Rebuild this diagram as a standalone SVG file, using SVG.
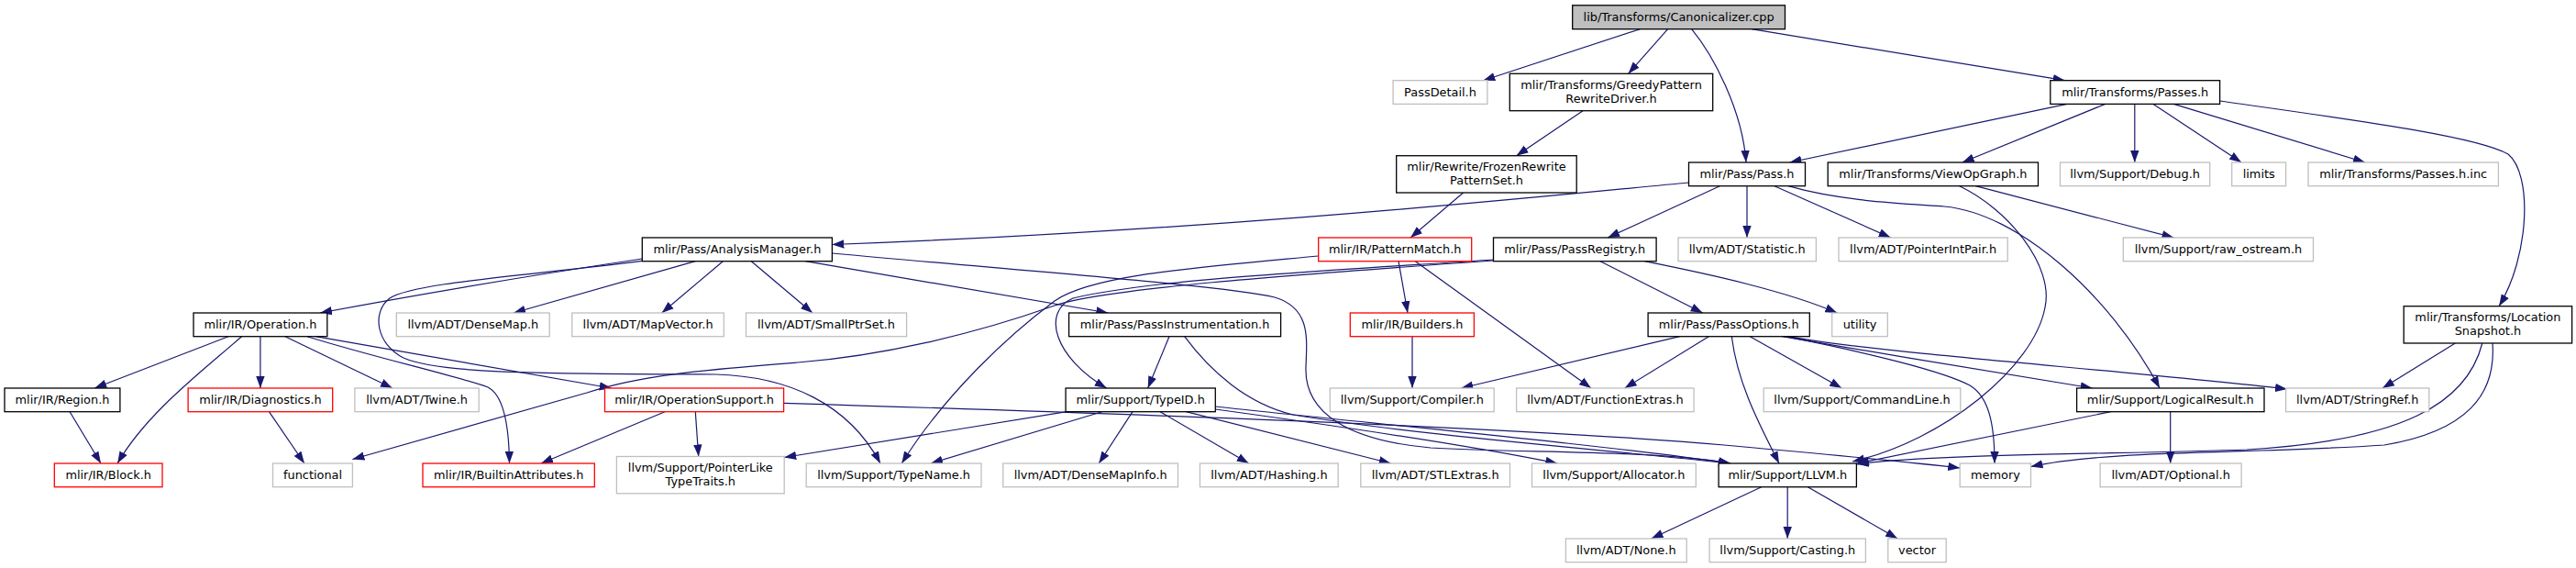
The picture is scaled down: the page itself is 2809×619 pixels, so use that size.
<svg xmlns="http://www.w3.org/2000/svg" width="2809" height="619" viewBox="0 0 2809 619">
<defs>
<marker id="a" markerUnits="userSpaceOnUse" markerWidth="14" markerHeight="10" viewBox="0 0 14 10" refX="13" refY="5" orient="auto">
<path d="M0,0.3 L13,5 L0,9.7 z" fill="#191970"/>
</marker>
<style>
rect{stroke-width:1.3;fill:#ffffff}
.k rect{stroke:#000000}
.g rect{stroke:#bfbfbf}
.r rect{stroke:#ff0000}
.root rect{fill:#bfbfbf;stroke:#000000}
text{font-family:"DejaVu Sans","Liberation Sans",sans-serif;font-size:12.9px;text-anchor:middle;fill:#000000}
#edges path{fill:none;stroke:#191970;stroke-width:1.2;marker-end:url(#a)}
</style>
</defs>
<rect x="0" y="0" width="2809" height="619" fill="#ffffff" style="stroke:none"/>
<g id="edges">
<path d="M1788.5,31.7 L1617.3,87.7"/>
<path d="M1818.7,31.7 L1775.6,80.3"/>
<path d="M1844.6,31.7 C1868,60 1900,120 1904,177"/>
<path d="M1910,31.7 L2251.7,87.7"/>
<path d="M1726,120.7 L1653.6,169.7"/>
<path d="M1595.6,210 L1538.1,259"/>
<path d="M2254,113.4 L1951.5,177"/>
<path d="M2295.6,113.4 L2139.8,177"/>
<path d="M2327.8,113.4 L2327.8,177"/>
<path d="M2348.1,113.4 L2444.1,177"/>
<path d="M2370.3,113.4 L2579,177"/>
<path d="M2420.6,110 C2560,130 2700,148 2735,168 C2762,190 2758,280 2725,333.7"/>
<path d="M2154.3,202.7 L2370.5,259"/>
<path d="M2136.7,202.7 C2190,228 2240,290 2230,335 C2218,400 2120,480 2020,503"/>
<path d="M1841.5,199 C1700,212 1350,250 907.4,266.5"/>
<path d="M1875.4,202.7 L1753.2,259"/>
<path d="M1905,202.7 L1905,259"/>
<path d="M1935,202.7 L2061.7,259"/>
<path d="M1950,202.7 C2010,220 2080,222 2120,225 C2200,232 2300,320 2355,423"/>
<path d="M700.3,282 C580,300 450,322 349,341"/>
<path d="M758.3,284.7 L560,341"/>
<path d="M788.3,284.7 L721.7,341"/>
<path d="M819.3,284.7 L886,341"/>
<path d="M878.3,284.7 L1208.3,341"/>
<path d="M907.4,276 C1150,298 1340,312 1390,324 C1430,336 1425,370 1424,400 C1422,450 1470,480 1560,488 C1660,494 1800,490 1887,505"/>
<path d="M700.3,284.3 C580,300 450,308 425,325 C405,340 410,375 440,390 C480,408 600,407 780,408 C860,410 925,440 960,505"/>
<path d="M1275,366.7 L1251.7,423"/>
<path d="M1291.7,366.7 C1320,405 1360,440 1410,452 C1550,475 1750,490 1887,505"/>
<path d="M1201.7,448.7 L1015,505"/>
<path d="M1235,448.7 L1198.3,505"/>
<path d="M1265,448.7 L1361.7,505"/>
<path d="M1163.3,448.7 L855.2,498.5"/>
<path d="M1293.3,448.7 L1516.7,505"/>
<path d="M1325.3,446 C1450,463 1600,485 1698.3,505"/>
<path d="M1325.3,443 C1500,462 1750,485 1887,505"/>
<path d="M854.6,439.3 C1200,450 1650,465 1880,485 C1990,495 2080,503 2137.2,510"/>
<path d="M249,366.7 L103.2,423"/>
<path d="M263.5,366.7 C220,405 160,450 128.1,505"/>
<path d="M283.9,366.7 L283.9,423"/>
<path d="M311,366.7 L427.9,423"/>
<path d="M335,366.7 C410,390 500,410 532,422 C548,430 555,460 555.5,505"/>
<path d="M344.1,366.7 L666.7,423"/>
<path d="M76.1,448.7 L110,505"/>
<path d="M293.4,448.7 L331.9,505"/>
<path d="M725,448.7 L590,505"/>
<path d="M758.3,448.7 L761.7,497.5"/>
<path d="M1525,284.7 L1535,341"/>
<path d="M1543.3,284.7 L1735,423"/>
<path d="M1437.7,279 C1300,292 1190,300 1150,328 C1100,365 1030,430 983.3,505"/>
<path d="M1628.5,283 C1450,295 1250,305 1170,325 C1135,340 1150,390 1206.7,423"/>
<path d="M1628.5,284 C1400,300 1200,315 1150,333 C1060,365 960,388 870,395 C780,402 700,408 640,428 L384.4,500.5"/>
<path d="M1745,284.7 L1856.7,341"/>
<path d="M1793.3,284.7 C1870,300 1950,318 2003.3,341"/>
<path d="M1540,366.7 L1540,423"/>
<path d="M1831.7,366.7 L1593.3,423"/>
<path d="M1863.3,366.7 L1771.7,423"/>
<path d="M1888.3,366.7 C1895,420 1920,465 1940,505"/>
<path d="M1908.3,366.7 L2008.3,423"/>
<path d="M1943.3,366.7 C2050,385 2200,410 2281.7,423"/>
<path d="M1950,366.7 C2050,385 2300,402 2494,424"/>
<path d="M1946.7,366.7 C2040,385 2120,405 2148,420 C2168,432 2175,460 2175,505"/>
<path d="M2301.7,448.7 L2025,505"/>
<path d="M2366.7,448.7 L2366.7,505"/>
<path d="M2677.3,374 L2598,423"/>
<path d="M2706.8,374 C2690,440 2620,480 2450,490 C2300,495 2100,495 2025,506"/>
<path d="M2718,374 C2722,430 2690,470 2600,485 C2450,495 2300,490 2214.5,508.5"/>
<path d="M1920.7,530.7 L1800.7,587"/>
<path d="M1949.2,530.7 L1949.2,587"/>
<path d="M1971.4,530.7 L2069.2,587"/>
</g>
<g id="n_root" class="root"><rect x="1714.7" y="5.8" width="231.8" height="25.9"/><text x="1830.6" y="23">lib/Transforms/Canonicalizer.cpp</text></g>
<g id="n_passdetail" class="g"><rect x="1519.1" y="87.7" width="102.8" height="25.7"/><text x="1570.5" y="104.7">PassDetail.h</text></g>
<g id="n_greedy" class="k"><rect x="1646.3" y="80.3" width="221.4" height="40.4"/><text x="1757" y="97">mlir/Transforms/GreedyPattern</text><text x="1757" y="112">RewriteDriver.h</text></g>
<g id="n_passes" class="k"><rect x="2235.8" y="87.7" width="184.8" height="25.7"/><text x="2328.2" y="104.7">mlir/Transforms/Passes.h</text></g>
<g id="n_frozen" class="k"><rect x="1522.7" y="169.7" width="196.5" height="40.3"/><text x="1621" y="186.3">mlir/Rewrite/FrozenRewrite</text><text x="1621" y="201.3">PatternSet.h</text></g>
<g id="n_pass" class="k"><rect x="1841.5" y="177" width="127" height="25.7"/><text x="1905" y="194">mlir/Pass/Pass.h</text></g>
<g id="n_viewopgraph" class="k"><rect x="1993.2" y="177" width="229.3" height="25.7"/><text x="2107.9" y="194">mlir/Transforms/ViewOpGraph.h</text></g>
<g id="n_debug" class="g"><rect x="2246.5" y="177" width="163.2" height="25.7"/><text x="2328.1" y="194">llvm/Support/Debug.h</text></g>
<g id="n_limits" class="g"><rect x="2433.7" y="177" width="58.9" height="25.7"/><text x="2463.2" y="194">limits</text></g>
<g id="n_passesinc" class="g"><rect x="2517" y="177" width="207.4" height="25.7"/><text x="2620.7" y="194">mlir/Transforms/Passes.h.inc</text></g>
<g id="n_analysis" class="k"><rect x="700.3" y="259" width="207.1" height="25.7"/><text x="803.9" y="276">mlir/Pass/AnalysisManager.h</text></g>
<g id="n_patternmatch" class="r"><rect x="1437.7" y="259" width="167" height="25.7"/><text x="1521.2" y="276">mlir/IR/PatternMatch.h</text></g>
<g id="n_passregistry" class="k"><rect x="1628.5" y="259" width="177.6" height="25.7"/><text x="1717.3" y="276">mlir/Pass/PassRegistry.h</text></g>
<g id="n_statistic" class="g"><rect x="1830" y="259" width="150.4" height="25.7"/><text x="1905.2" y="276">llvm/ADT/Statistic.h</text></g>
<g id="n_pointerintpair" class="g"><rect x="2005" y="259" width="184.2" height="25.7"/><text x="2097.1" y="276">llvm/ADT/PointerIntPair.h</text></g>
<g id="n_rawostream" class="g"><rect x="2315.3" y="259" width="207.2" height="25.7"/><text x="2418.9" y="276">llvm/Support/raw_ostream.h</text></g>
<g id="n_operation" class="k"><rect x="211" y="341" width="145.8" height="25.7"/><text x="283.9" y="358">mlir/IR/Operation.h</text></g>
<g id="n_densemap" class="g"><rect x="432.3" y="341" width="166.9" height="25.7"/><text x="515.8" y="358">llvm/ADT/DenseMap.h</text></g>
<g id="n_mapvector" class="g"><rect x="623.8" y="341" width="165.5" height="25.7"/><text x="706.6" y="358">llvm/ADT/MapVector.h</text></g>
<g id="n_smallptrset" class="g"><rect x="813.5" y="341" width="175.1" height="25.7"/><text x="901" y="358">llvm/ADT/SmallPtrSet.h</text></g>
<g id="n_passinstr" class="k"><rect x="1165.6" y="341" width="231" height="25.7"/><text x="1281.1" y="358">mlir/Pass/PassInstrumentation.h</text></g>
<g id="n_builders" class="r"><rect x="1472.3" y="341" width="135.1" height="25.7"/><text x="1539.9" y="358">mlir/IR/Builders.h</text></g>
<g id="n_passoptions" class="k"><rect x="1797.1" y="341" width="176.2" height="25.7"/><text x="1885.2" y="358">mlir/Pass/PassOptions.h</text></g>
<g id="n_utility" class="g"><rect x="1997.7" y="341" width="60.6" height="25.7"/><text x="2028" y="358">utility</text></g>
<g id="n_locsnap" class="k"><rect x="2621.2" y="333.7" width="183.4" height="40.3"/><text x="2712.9" y="350.3">mlir/Transforms/Location</text><text x="2712.9" y="365.3">Snapshot.h</text></g>
<g id="n_region" class="k"><rect x="5" y="423" width="125.9" height="25.7"/><text x="68" y="440">mlir/IR/Region.h</text></g>
<g id="n_diagnostics" class="r"><rect x="205.1" y="423" width="157.6" height="25.7"/><text x="283.9" y="440">mlir/IR/Diagnostics.h</text></g>
<g id="n_twine" class="g"><rect x="386.9" y="423" width="135.3" height="25.7"/><text x="454.6" y="440">llvm/ADT/Twine.h</text></g>
<g id="n_opsupport" class="r"><rect x="659.5" y="423" width="195.1" height="25.7"/><text x="757.1" y="440">mlir/IR/OperationSupport.h</text></g>
<g id="n_typeid" class="k"><rect x="1162.1" y="423" width="163.2" height="25.7"/><text x="1243.7" y="440">mlir/Support/TypeID.h</text></g>
<g id="n_compiler" class="g"><rect x="1450.3" y="423" width="178.9" height="25.7"/><text x="1539.8" y="440">llvm/Support/Compiler.h</text></g>
<g id="n_funcextras" class="g"><rect x="1653.6" y="423" width="193.5" height="25.7"/><text x="1750.4" y="440">llvm/ADT/FunctionExtras.h</text></g>
<g id="n_commandline" class="g"><rect x="1923.2" y="423" width="214.6" height="25.7"/><text x="2030.5" y="440">llvm/Support/CommandLine.h</text></g>
<g id="n_logicalresult" class="k"><rect x="2264.6" y="423" width="204.4" height="25.7"/><text x="2366.8" y="440">mlir/Support/LogicalResult.h</text></g>
<g id="n_stringref" class="g"><rect x="2492.6" y="423" width="156.2" height="25.7"/><text x="2570.7" y="440">llvm/ADT/StringRef.h</text></g>
<g id="n_block" class="r"><rect x="59.3" y="505" width="117.7" height="25.7"/><text x="118.2" y="522">mlir/IR/Block.h</text></g>
<g id="n_functional" class="g"><rect x="297.5" y="505" width="86.9" height="25.7"/><text x="341" y="522">functional</text></g>
<g id="n_builtinattr" class="r"><rect x="461" y="505" width="187.3" height="25.7"/><text x="554.7" y="522">mlir/IR/BuiltinAttributes.h</text></g>
<g id="n_pointerlike" class="g"><rect x="672.4" y="497.5" width="182.8" height="40.3"/><text x="763.8" y="514">llvm/Support/PointerLike</text><text x="763.8" y="529">TypeTraits.h</text></g>
<g id="n_typename" class="g"><rect x="879.2" y="505" width="190.8" height="25.7"/><text x="974.6" y="522">llvm/Support/TypeName.h</text></g>
<g id="n_densemapinfo" class="g"><rect x="1093.8" y="505" width="190.7" height="25.7"/><text x="1189.2" y="522">llvm/ADT/DenseMapInfo.h</text></g>
<g id="n_hashing" class="g"><rect x="1308.5" y="505" width="150.7" height="25.7"/><text x="1383.9" y="522">llvm/ADT/Hashing.h</text></g>
<g id="n_stlextras" class="g"><rect x="1483.8" y="505" width="162.7" height="25.7"/><text x="1565.2" y="522">llvm/ADT/STLExtras.h</text></g>
<g id="n_allocator" class="g"><rect x="1670.5" y="505" width="178.8" height="25.7"/><text x="1759.9" y="522">llvm/Support/Allocator.h</text></g>
<g id="n_llvm" class="k"><rect x="1874.1" y="505" width="150.3" height="25.7"/><text x="1949.3" y="522">mlir/Support/LLVM.h</text></g>
<g id="n_memory" class="g"><rect x="2137.2" y="505" width="77.3" height="25.7"/><text x="2175.9" y="522">memory</text></g>
<g id="n_optional" class="g"><rect x="2290.1" y="505" width="154" height="25.7"/><text x="2367.1" y="522">llvm/ADT/Optional.h</text></g>
<g id="n_none" class="g"><rect x="1707.4" y="587" width="131.8" height="25.7"/><text x="1773.3" y="604">llvm/ADT/None.h</text></g>
<g id="n_casting" class="g"><rect x="1864.1" y="587" width="170.3" height="25.7"/><text x="1949.3" y="604">llvm/Support/Casting.h</text></g>
<g id="n_vector" class="g"><rect x="2058.8" y="587" width="63.4" height="25.7"/><text x="2090.5" y="604">vector</text></g>
</svg>
